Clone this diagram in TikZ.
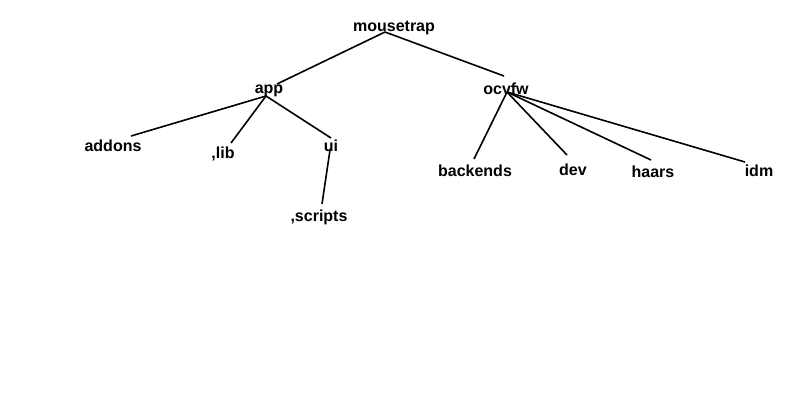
\documentclass[tikz,border=0pt]{standalone}
\usepackage{fontspec}
\setmainfont{Liberation Sans}
\begin{document}
\begin{tikzpicture}[x=1pt,y=-1pt,
  lbl/.style={font=\bfseries\fontsize{16}{19}\selectfont, inner sep=0pt, anchor=center},
  edge/.style={line width=1.6pt, black}]
\useasboundingbox (0,0) rectangle (800,400);
% labels
\node[lbl] (mousetrap) at (394,28) {mousetrap};
\node[lbl] (app) at (269,91) {app};
\node[lbl] (ocvfw) at (506,89) {ocvfw};
\node[lbl] (addons) at (113,146) {addons};
\node[lbl] (lib) at (223,154) {,lib};
\node[lbl] (ui) at (331,146) {ui};
\node[lbl] (scripts) at (319,217) {,scripts};
\node[lbl] (backends) at (475,171) {backends};
\node[lbl] (dev) at (573,170) {dev};
\node[lbl] (haars) at (653,172) {haars};
\node[lbl] (idm) at (759,171) {idm};
% connector end points
\coordinate (mousetrap-o) at (385,32);
\coordinate (app-i) at (277,84);
\coordinate (ocvfw-i) at (504,76);
\coordinate (app-o) at (266,96);
\coordinate (ocvfw-o) at (507,92);
\coordinate (addons-i) at (131,136);
\coordinate (lib-i) at (231,143);
\coordinate (ui-i) at (331,138);
\coordinate (ui-o) at (330,150);
\coordinate (scripts-i) at (322,204);
\coordinate (backends-i) at (474,159);
\coordinate (dev-i) at (567,155);
\coordinate (haars-i) at (651,160);
\coordinate (idm-i) at (745,162);
% connectors
\draw[edge] (mousetrap-o) -- (app-i);
\draw[edge] (mousetrap-o) -- (ocvfw-i);
\draw[edge] (app-o) -- (addons-i);
\draw[edge] (app-o) -- (lib-i);
\draw[edge] (app-o) -- (ui-i);
\draw[edge] (ui-o) -- (scripts-i);
\draw[edge] (ocvfw-o) -- (backends-i);
\draw[edge] (ocvfw-o) -- (dev-i);
\draw[edge] (ocvfw-o) -- (haars-i);
\draw[edge] (ocvfw-o) -- (idm-i);
\end{tikzpicture}
\end{document}
